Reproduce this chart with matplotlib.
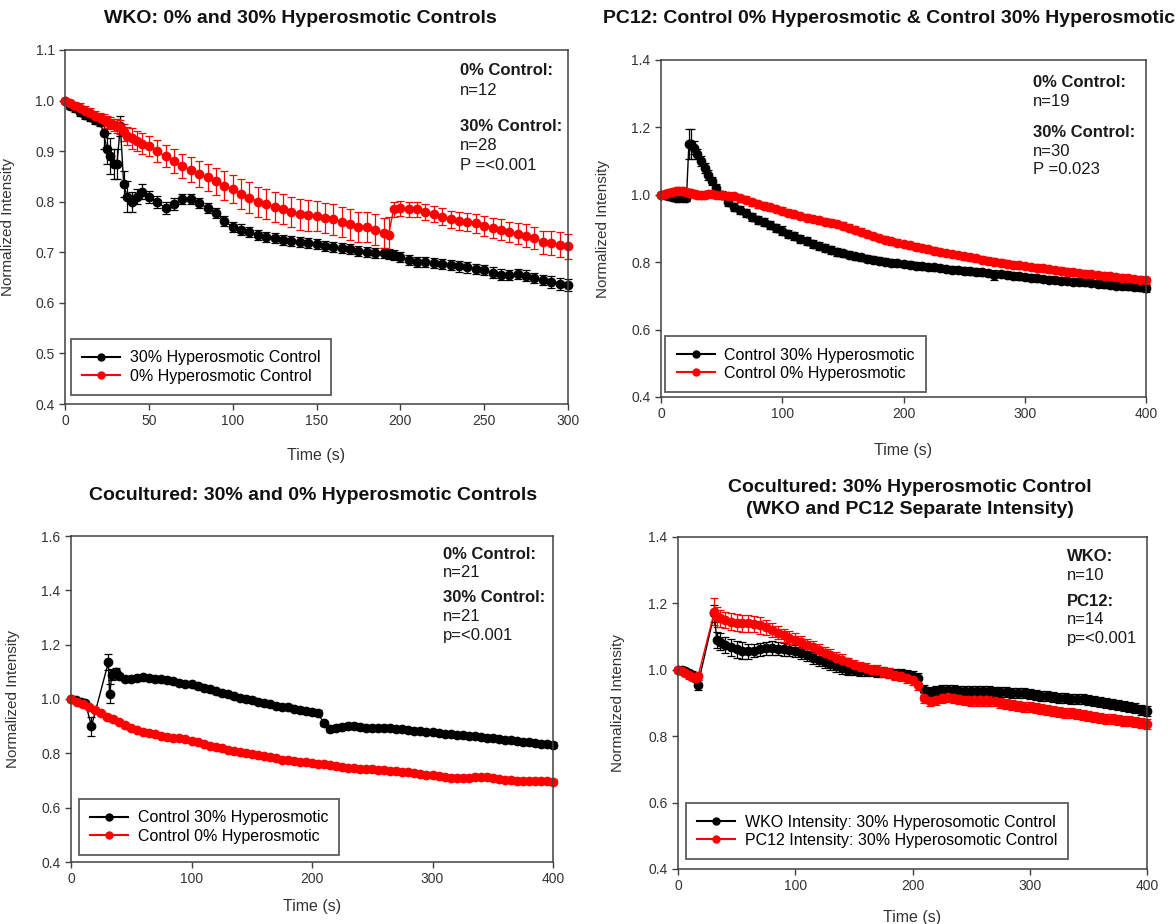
import matplotlib
matplotlib.use('Agg')
import matplotlib.pyplot as plt
from matplotlib.lines import Line2D

plt.rcParams['font.family'] = ['Liberation Sans', 'DejaVu Sans']

# ---- WKO: 0% and 30% hyperosmotic controls ----
t1 = [0, 3, 6, 9, 12, 15, 18, 21, 23, 25, 27, 29, 31, 33, 35, 37, 40, 43, 46,
      50, 55, 60, 65, 70, 75, 80, 85, 90, 95, 100, 105, 110, 115, 120, 125, 130, 135, 140, 145,
      150, 155, 160, 165, 170, 175, 180, 185, 190, 193, 196,
      200, 205, 210, 215, 220, 225, 230, 235, 240, 245, 250, 255, 260, 265, 270, 275, 280, 285, 290, 295, 300]
wko30 = [1.00, 0.99, 0.985, 0.978, 0.972, 0.967, 0.962, 0.957, 0.935, 0.905, 0.89, 0.875, 0.875, 0.95, 0.835, 0.81, 0.80, 0.81, 0.82,
         0.81, 0.80, 0.787, 0.795, 0.805, 0.805, 0.797, 0.788, 0.778, 0.762, 0.75, 0.745, 0.74, 0.735, 0.731, 0.728, 0.725, 0.723, 0.721, 0.719,
         0.716, 0.713, 0.711, 0.708, 0.706, 0.703, 0.70, 0.699, 0.698, 0.697, 0.695,
         0.69, 0.685, 0.681, 0.68, 0.679, 0.677, 0.675, 0.672, 0.67, 0.667, 0.665, 0.66, 0.656, 0.655, 0.657, 0.654, 0.65, 0.645, 0.641, 0.638, 0.635]
wko30_err = [0.004, 0.006, 0.008, 0.008, 0.008, 0.008, 0.008, 0.008, 0.03, 0.03, 0.035, 0.03, 0.03, 0.02, 0.025, 0.03, 0.02, 0.015, 0.015,
             0.012, 0.012, 0.012, 0.012, 0.01, 0.01, 0.01, 0.01, 0.01, 0.01, 0.01, 0.01, 0.01, 0.01, 0.01, 0.01, 0.01, 0.01, 0.01, 0.01,
             0.01, 0.01, 0.01, 0.01, 0.01, 0.01, 0.01, 0.01, 0.01, 0.01, 0.01,
             0.01, 0.01, 0.01, 0.01, 0.01, 0.01, 0.01, 0.01, 0.01, 0.01, 0.01, 0.01, 0.01, 0.01, 0.01, 0.01, 0.01, 0.01, 0.012, 0.012, 0.012]
wko0 = [1.00, 0.995, 0.99, 0.985, 0.98, 0.975, 0.97, 0.965, 0.962, 0.958, 0.955, 0.952, 0.95, 0.948, 0.937, 0.93, 0.925, 0.92, 0.915,
        0.91, 0.90, 0.89, 0.88, 0.87, 0.863, 0.855, 0.848, 0.84, 0.832, 0.825, 0.815, 0.808, 0.80, 0.795, 0.79, 0.785, 0.78, 0.775, 0.773,
        0.772, 0.768, 0.765, 0.76, 0.755, 0.75, 0.75, 0.745, 0.738, 0.735, 0.785,
        0.787, 0.785, 0.785, 0.78, 0.775, 0.77, 0.765, 0.762, 0.76, 0.757, 0.752, 0.748, 0.745, 0.74, 0.737, 0.733, 0.728, 0.72, 0.718, 0.715, 0.712]
wko0_err = [0.003, 0.006, 0.008, 0.01, 0.01, 0.01, 0.01, 0.01, 0.012, 0.012, 0.012, 0.012, 0.014, 0.014, 0.016, 0.018, 0.02, 0.02, 0.02,
            0.02, 0.022, 0.022, 0.024, 0.024, 0.025, 0.026, 0.026, 0.027, 0.028, 0.028, 0.03, 0.03, 0.03, 0.03, 0.03, 0.03, 0.03, 0.03, 0.03,
            0.03, 0.03, 0.03, 0.03, 0.03, 0.03, 0.03, 0.03, 0.03, 0.035, 0.015,
            0.015, 0.015, 0.015, 0.016, 0.016, 0.017, 0.017, 0.018, 0.018, 0.018, 0.019, 0.019, 0.02, 0.02, 0.021, 0.022, 0.022, 0.023, 0.024, 0.025, 0.025]

# ---- PC12: control 0% & control 30% ----
t2 = [0, 3, 6, 9, 12, 15, 18, 21, 23, 25, 27, 30, 33, 36, 39, 42, 45,
      50, 55, 60, 65, 70, 75, 80, 85, 90, 95, 100, 105, 110, 115, 120, 125, 130, 135, 140, 145,
      150, 155, 160, 165, 170, 175, 180, 185, 190, 195, 200, 205, 210, 215, 220, 225, 230, 235, 240, 245,
      250, 255, 260, 265, 270, 275, 280, 285, 290, 295, 300, 305, 310, 315, 320, 325, 330, 335, 340, 345,
      350, 355, 360, 365, 370, 375, 380, 385, 390, 395, 400]
pc30 = [1.0, 0.998, 0.995, 0.993, 0.99, 0.99, 0.99, 0.99, 1.15, 1.15, 1.14, 1.12, 1.10, 1.08, 1.06, 1.04, 1.02,
        1.0, 0.98, 0.965, 0.955, 0.945, 0.935, 0.926, 0.918, 0.91, 0.902, 0.894, 0.885, 0.877, 0.87, 0.863, 0.855, 0.848, 0.841, 0.835, 0.83,
        0.826, 0.822, 0.818, 0.814, 0.81, 0.807, 0.804, 0.801, 0.799, 0.797, 0.795, 0.793, 0.79, 0.788, 0.786, 0.785, 0.783, 0.78, 0.778, 0.777,
        0.775, 0.773, 0.772, 0.77, 0.768, 0.762, 0.765, 0.763, 0.76, 0.758, 0.756, 0.754, 0.752, 0.75, 0.748, 0.747, 0.745, 0.744, 0.742, 0.741,
        0.74, 0.738, 0.736, 0.734, 0.732, 0.73, 0.729, 0.728, 0.727, 0.725, 0.723]
pc30_err = [0.004, 0.006, 0.008, 0.008, 0.008, 0.008, 0.008, 0.008, 0.045, 0.045, 0.02, 0.015, 0.015, 0.015, 0.015, 0.012, 0.012,
            0.012, 0.012, 0.012, 0.012, 0.012, 0.012, 0.012, 0.012, 0.012, 0.012, 0.012, 0.012, 0.012, 0.012, 0.012, 0.012, 0.012, 0.012, 0.012, 0.012,
            0.01, 0.01, 0.01, 0.01, 0.01, 0.01, 0.01, 0.01, 0.01, 0.01, 0.01, 0.01, 0.01, 0.01, 0.01, 0.01, 0.01, 0.01, 0.01, 0.01,
            0.01, 0.01, 0.01, 0.01, 0.01, 0.015, 0.01, 0.01, 0.01, 0.01, 0.01, 0.01, 0.01, 0.01, 0.01, 0.01, 0.01, 0.01, 0.01, 0.01,
            0.01, 0.01, 0.01, 0.01, 0.01, 0.01, 0.01, 0.01, 0.01, 0.01, 0.01]
pc0 = [1.0, 1.002, 1.005, 1.008, 1.01, 1.012, 1.01, 1.008, 1.006, 1.005, 1.003, 1.0, 0.998, 1.0, 1.002, 1.003, 1.0,
       0.998, 0.997, 0.995, 0.99, 0.985, 0.978, 0.972, 0.968, 0.963, 0.958, 0.953, 0.947, 0.942, 0.937, 0.932, 0.928, 0.924, 0.92, 0.917, 0.913,
       0.908, 0.902, 0.896, 0.89, 0.884, 0.878, 0.872, 0.867, 0.862, 0.858, 0.854, 0.85, 0.846, 0.842, 0.838, 0.834, 0.83, 0.827, 0.824, 0.821,
       0.818, 0.815, 0.812, 0.808, 0.805, 0.802, 0.799, 0.796, 0.793, 0.791, 0.789, 0.786, 0.784, 0.782, 0.779, 0.777, 0.775, 0.772, 0.77, 0.768,
       0.766, 0.764, 0.762, 0.76, 0.758, 0.756, 0.754, 0.752, 0.75, 0.748, 0.746]
pc0_err = [0.004, 0.006, 0.008, 0.01, 0.01, 0.01, 0.01, 0.01, 0.01, 0.01, 0.01, 0.01, 0.01, 0.01, 0.01, 0.01, 0.01,
           0.01, 0.01, 0.01, 0.01, 0.01, 0.01, 0.01, 0.01, 0.01, 0.01, 0.01, 0.01, 0.01, 0.01, 0.01, 0.01, 0.01, 0.01, 0.01, 0.01,
           0.01, 0.01, 0.01, 0.01, 0.01, 0.01, 0.01, 0.01, 0.01, 0.01, 0.01, 0.01, 0.01, 0.01, 0.01, 0.01, 0.01, 0.01, 0.01, 0.01,
           0.01, 0.01, 0.01, 0.01, 0.01, 0.01, 0.01, 0.01, 0.01, 0.01, 0.01, 0.01, 0.01, 0.01, 0.01, 0.01, 0.01, 0.01, 0.01, 0.01,
           0.01, 0.01, 0.01, 0.01, 0.01, 0.01, 0.01, 0.01, 0.01, 0.01, 0.01]

# ---- Cocultured: 30% and 0% controls ----
t3_black = [0, 4, 8, 12, 17, 31, 32, 34, 37, 40,
            45, 50, 55, 60, 65, 70, 75, 80, 85, 90, 95, 100, 105, 110, 115, 120, 125, 130, 135, 140,
            145, 150, 155, 160, 165, 170, 175, 180, 185, 190, 195, 200, 205, 210, 215, 220, 225, 230, 235, 240,
            245, 250, 255, 260, 265, 270, 275, 280, 285, 290, 295, 300, 305, 310, 315, 320, 325, 330, 335, 340,
            345, 350, 355, 360, 365, 370, 375, 380, 385, 390, 395, 400]
co30 = [1.0, 0.995, 0.99, 0.985, 0.90, 1.135, 1.02, 1.09, 1.10, 1.085,
        1.075, 1.075, 1.078, 1.08, 1.078, 1.075, 1.072, 1.07, 1.065, 1.06, 1.057, 1.054, 1.048, 1.042, 1.035, 1.028, 1.022, 1.017, 1.01, 1.005,
        1.0, 0.998, 0.99, 0.985, 0.98, 0.976, 0.972, 0.97, 0.965, 0.96, 0.955, 0.952, 0.948, 0.91, 0.89, 0.895, 0.898, 0.90, 0.90, 0.897,
        0.895, 0.893, 0.893, 0.895, 0.893, 0.89, 0.888, 0.885, 0.884, 0.882, 0.88, 0.878, 0.876, 0.872, 0.87, 0.868, 0.866, 0.864, 0.862, 0.86,
        0.858, 0.855, 0.853, 0.85, 0.848, 0.845, 0.842, 0.84, 0.838, 0.835, 0.833, 0.83]
co30_err = [0.004, 0.006, 0.008, 0.008, 0.035, 0.03, 0.035, 0.02, 0.015, 0.012,
            0.01, 0.01, 0.01, 0.01, 0.01, 0.01, 0.01, 0.01, 0.01, 0.01, 0.01, 0.01, 0.01, 0.01, 0.01, 0.01, 0.01, 0.01, 0.01, 0.01,
            0.01, 0.01, 0.01, 0.01, 0.01, 0.01, 0.01, 0.01, 0.01, 0.01, 0.01, 0.01, 0.01, 0.01, 0.01, 0.01, 0.01, 0.01, 0.01, 0.01,
            0.008, 0.008, 0.008, 0.008, 0.008, 0.008, 0.008, 0.008, 0.008, 0.008, 0.008, 0.008, 0.008, 0.008, 0.008, 0.008, 0.008, 0.008, 0.008, 0.008,
            0.008, 0.008, 0.008, 0.008, 0.008, 0.008, 0.008, 0.008, 0.008, 0.008, 0.008, 0.01]
t3_red = [0, 5, 10, 15, 20, 25, 30, 35, 40, 45, 50, 55, 60, 65, 70, 75, 80, 85, 90, 95,
          100, 105, 110, 115, 120, 125, 130, 135, 140, 145, 150, 155, 160, 165, 170, 175, 180, 185, 190, 195,
          200, 205, 210, 215, 220, 225, 230, 235, 240, 245, 250, 255, 260, 265, 270, 275, 280, 285, 290, 295,
          300, 305, 310, 315, 320, 325, 330, 335, 340, 345, 350, 355, 360, 365, 370, 375, 380, 385, 390, 395,
          400]
co0 = [1.0, 0.99, 0.98, 0.97, 0.96, 0.947, 0.935, 0.925, 0.915, 0.903, 0.893, 0.886, 0.88, 0.875, 0.87, 0.865, 0.86, 0.858, 0.855, 0.852,
       0.847, 0.84, 0.834, 0.828, 0.823, 0.818, 0.813, 0.808, 0.804, 0.80, 0.797, 0.793, 0.789, 0.785, 0.781, 0.777, 0.774, 0.771, 0.769, 0.767,
       0.765, 0.762, 0.759, 0.756, 0.753, 0.75, 0.747, 0.745, 0.743, 0.742, 0.741, 0.74, 0.738, 0.736, 0.734, 0.732, 0.73, 0.727, 0.724, 0.722,
       0.72, 0.716, 0.713, 0.711, 0.71, 0.71, 0.711, 0.712, 0.712, 0.713, 0.71, 0.706, 0.703, 0.701, 0.70, 0.70, 0.70, 0.699, 0.698, 0.697,
       0.696]
co0_err = [0.004, 0.008, 0.008, 0.008, 0.008, 0.008, 0.008, 0.008, 0.008, 0.008, 0.008, 0.008, 0.008, 0.008, 0.008, 0.008, 0.008, 0.008, 0.008, 0.008,
           0.008, 0.008, 0.008, 0.008, 0.008, 0.008, 0.008, 0.008, 0.008, 0.008, 0.008, 0.008, 0.008, 0.008, 0.008, 0.008, 0.008, 0.008, 0.008, 0.008,
           0.008, 0.008, 0.008, 0.008, 0.008, 0.008, 0.008, 0.008, 0.008, 0.008, 0.008, 0.008, 0.008, 0.008, 0.008, 0.008, 0.008, 0.008, 0.008, 0.008,
           0.008, 0.008, 0.008, 0.008, 0.008, 0.008, 0.008, 0.008, 0.008, 0.008, 0.008, 0.008, 0.008, 0.008, 0.008, 0.008, 0.008, 0.008, 0.008, 0.008,
           0.01]

# ---- Cocultured: WKO and PC12 separate intensity ----
t4 = [0, 3, 6, 9, 12, 15, 17, 31, 33, 36, 40,
      45, 50, 55, 60, 65, 70, 75, 80, 85, 90, 95, 100, 105, 110, 115, 120, 125, 130, 135, 140,
      145, 150, 155, 160, 165, 170, 175, 180, 185, 190, 195, 200, 205, 210, 215, 220, 225, 230, 235, 240,
      245, 250, 255, 260, 265, 270, 275, 280, 285, 290, 295, 300, 305, 310, 315, 320, 325, 330, 335, 340,
      345, 350, 355, 360, 365, 370, 375, 380, 385, 390, 395, 400]
co_wko = [1.0, 1.0, 0.995, 0.99, 0.985, 0.975, 0.955, 1.17, 1.09, 1.085, 1.075,
          1.068, 1.062, 1.058, 1.056, 1.058, 1.062, 1.065, 1.066, 1.064, 1.062, 1.06, 1.056, 1.05, 1.044, 1.036, 1.03, 1.024, 1.018, 1.012, 1.006,
          1.0, 0.998, 0.996, 0.995, 0.995, 0.994, 0.993, 0.99, 0.988, 0.986, 0.983, 0.98, 0.975, 0.94, 0.932, 0.935, 0.938, 0.94, 0.938, 0.936,
          0.936, 0.937, 0.937, 0.936, 0.935, 0.934, 0.933, 0.932, 0.931, 0.93, 0.929, 0.928, 0.925, 0.922, 0.92, 0.918, 0.916, 0.915, 0.913, 0.912,
          0.911, 0.91, 0.907, 0.904, 0.901, 0.898, 0.895, 0.892, 0.888, 0.884, 0.88, 0.876]
co_wko_err = [0.005, 0.008, 0.01, 0.01, 0.01, 0.012, 0.015, 0.025, 0.025, 0.025, 0.025,
              0.025, 0.025, 0.025, 0.022, 0.02, 0.02, 0.02, 0.02, 0.02, 0.02, 0.018, 0.018, 0.018, 0.018, 0.018, 0.018, 0.018, 0.018, 0.018, 0.018,
              0.015, 0.015, 0.015, 0.015, 0.015, 0.015, 0.015, 0.015, 0.015, 0.015, 0.015, 0.015, 0.015, 0.015, 0.015, 0.015, 0.015, 0.015, 0.015, 0.015,
              0.015, 0.015, 0.015, 0.015, 0.015, 0.015, 0.015, 0.015, 0.015, 0.015, 0.015, 0.015, 0.015, 0.015, 0.015, 0.015, 0.015, 0.015, 0.015, 0.015,
              0.015, 0.015, 0.015, 0.015, 0.015, 0.015, 0.015, 0.015, 0.015, 0.015, 0.015, 0.015]
co_pc12 = [1.0, 0.995, 0.99, 0.983, 0.978, 0.975, 0.98, 1.175, 1.16, 1.155, 1.15,
           1.145, 1.142, 1.14, 1.14, 1.138, 1.134, 1.128, 1.12, 1.112, 1.104, 1.097, 1.09, 1.083, 1.075, 1.068, 1.06, 1.052, 1.045, 1.037, 1.03,
           1.022, 1.014, 1.008, 1.004, 1.0, 0.998, 0.994, 0.99, 0.985, 0.98, 0.975, 0.968, 0.955, 0.915, 0.905, 0.91, 0.915, 0.917, 0.915, 0.912,
           0.91, 0.907, 0.905, 0.905, 0.906, 0.905, 0.90, 0.897, 0.894, 0.891, 0.889, 0.887, 0.884, 0.882, 0.879, 0.876, 0.873, 0.871, 0.869, 0.867,
           0.864, 0.861, 0.858, 0.855, 0.853, 0.851, 0.849, 0.847, 0.845, 0.843, 0.84, 0.838]
co_pc12_err = [0.005, 0.008, 0.01, 0.01, 0.01, 0.01, 0.01, 0.04, 0.03, 0.025, 0.025,
               0.025, 0.025, 0.025, 0.025, 0.025, 0.025, 0.022, 0.02, 0.02, 0.02, 0.02, 0.02, 0.018, 0.018, 0.018, 0.018, 0.018, 0.018, 0.018, 0.018,
               0.015, 0.015, 0.015, 0.015, 0.015, 0.015, 0.015, 0.015, 0.015, 0.015, 0.015, 0.015, 0.015, 0.015, 0.015, 0.015, 0.015, 0.015, 0.015, 0.015,
               0.015, 0.015, 0.015, 0.015, 0.015, 0.015, 0.015, 0.015, 0.015, 0.015, 0.015, 0.015, 0.015, 0.015, 0.015, 0.015, 0.015, 0.015, 0.015, 0.015,
               0.015, 0.015, 0.015, 0.015, 0.015, 0.015, 0.015, 0.015, 0.015, 0.015, 0.015, 0.015]

W, H = 1176, 924
fig = plt.figure(figsize=(W / 100, H / 100), dpi=100)

SPINE = '#404040'


def px_rect(x0, y0, x1, y1):
    # pixel box (left, top, right, bottom) -> figure fraction rect
    return [x0 / W, 1 - y1 / H, (x1 - x0) / W, (y1 - y0) / H]


def draw_panel(rect, series, xlim, xticks, ylim, yticks, notes, note_x, note_ys,
               leg_anchor, ylab_x, xlab_y):
    ax = fig.add_axes(rect)
    handles = []
    for t, y, e, color, label in series:
        assert len(t) == len(y) == len(e), label
        cont = ax.errorbar(t, y, yerr=e, fmt='-o', color=color, ecolor=color, ms=6,
                           lw=1, elinewidth=0.9, capsize=3, capthick=0.9)
        for a in [cont[0], *cont[1], *cont[2]]:
            a.set_clip_on(False)
        handles.append(Line2D([], [], color=color, marker='o', ms=5, lw=1.5, label=label))
    ax.set_xlim(*xlim)
    ax.set_ylim(*ylim)
    ax.set_xticks(xticks)
    ax.set_yticks(yticks)
    ax.set_yticklabels([f'{v:.1f}' for v in yticks])
    ax.tick_params(direction='out', length=4, width=1, colors=SPINE, labelsize=10,
                   labelcolor='#333333', top=False, right=False)
    for s in ax.spines.values():
        s.set_color(SPINE)
        s.set_linewidth(1.1)
    ax.set_ylabel('Normalized Intensity', fontsize=11, color='#333333')
    ax.set_xlabel('Time (s)', fontsize=11.5, color='#333333')
    ax.yaxis.set_label_coords(ylab_x, 0.5)
    ax.xaxis.set_label_coords(0.5, xlab_y)

    for (txt, bold), yy in zip(notes, note_ys):
        ax.text(note_x, yy, txt, transform=ax.transAxes, fontsize=12, va='center', ha='left',
                fontweight='bold' if bold else 'normal', color='#1a1a1a')

    leg = ax.legend(handles=handles, loc='lower left', bbox_to_anchor=leg_anchor,
                    borderaxespad=0, fontsize=11.5, frameon=True, fancybox=False,
                    borderpad=0.7, labelspacing=0.2, handlelength=2.4, handletextpad=0.6)
    leg.get_frame().set_edgecolor('#333333')
    leg.get_frame().set_linewidth(1.3)
    return ax


# panel 1
draw_panel(px_rect(65, 50, 568, 404),
           [(t1, wko30, wko30_err, 'black', '30% Hyperosmotic Control'),
            (t1, wko0, wko0_err, 'red', '0% Hyperosmotic Control')],
           (0, 300), [0, 50, 100, 150, 200, 250, 300], (0.4, 1.1), [0.4, 0.5, 0.6, 0.7, 0.8, 0.9, 1.0, 1.1],
           [('0% Control:', True), ('n=12', False), ('30% Control:', True), ('n=28', False), ('P =<0.001', False)],
           0.785, [0.943, 0.886, 0.784, 0.730, 0.675], (0.011, 0.026), -0.10, -0.125)

# panel 2
draw_panel(px_rect(661, 60, 1146, 397),
           [(t2, pc30, pc30_err, 'black', 'Control 30% Hyperosmotic'),
            (t2, pc0, pc0_err, 'red', 'Control 0% Hyperosmotic')],
           (0, 400), [0, 100, 200, 300, 400], (0.4, 1.4), [0.4, 0.6, 0.8, 1.0, 1.2, 1.4],
           [('0% Control:', True), ('n=19', False), ('30% Control:', True), ('n=30', False), ('P =0.023', False)],
           0.767, [0.934, 0.877, 0.786, 0.729, 0.674], (0.009, 0.015), -0.105, -0.137)

# panel 3
draw_panel(px_rect(71, 536, 553, 862),
           [(t3_black, co30, co30_err, 'black', 'Control 30% Hyperosmotic'),
            (t3_red, co0, co0_err, 'red', 'Control 0% Hyperosmotic')],
           (0, 400), [0, 100, 200, 300, 400], (0.4, 1.6), [0.4, 0.6, 0.8, 1.0, 1.2, 1.4, 1.6],
           [('0% Control:', True), ('n=21', False), ('30% Control:', True), ('n=21', False), ('p=<0.001', False)],
           0.771, [0.943, 0.887, 0.810, 0.754, 0.696], (0.016, 0.022), -0.105, -0.113)

# panel 4
draw_panel(px_rect(678, 537, 1147, 869),
           [(t4, co_wko, co_wko_err, 'black', 'WKO Intensity: 30% Hyperosomotic Control'),
            (t4, co_pc12, co_pc12_err, 'red', 'PC12 Intensity: 30% Hyperosomotic Control')],
           (0, 400), [0, 100, 200, 300, 400], (0.4, 1.4), [0.4, 0.6, 0.8, 1.0, 1.2, 1.4],
           [('WKO:', True), ('n=10', False), ('PC12:', True), ('n=14', False), ('p=<0.001', False)],
           0.830, [0.940, 0.884, 0.806, 0.751, 0.693], (0.016, 0.030), -0.113, -0.122)

# titles
title_kw = dict(fontsize=14, fontweight='bold', ha='center', va='center', color='#111111')
fig.text(300 / W, 1 - 18.5 / H, 'WKO: 0% and 30% Hyperosmotic Controls', **title_kw)
fig.text(889 / W, 1 - 18.5 / H, 'PC12: Control 0% Hyperosmotic & Control 30% Hyperosmotic', **title_kw)
fig.text(313 / W, 1 - 496 / H, 'Cocultured: 30% and 0% Hyperosmotic Controls', **title_kw)
fig.text(910 / W, 1 - 487 / H, 'Cocultured: 30% Hyperosmotic Control', **title_kw)
fig.text(910 / W, 1 - 509 / H, '(WKO and PC12 Separate Intensity)', **title_kw)

fig.savefig('out.png', dpi=100)
